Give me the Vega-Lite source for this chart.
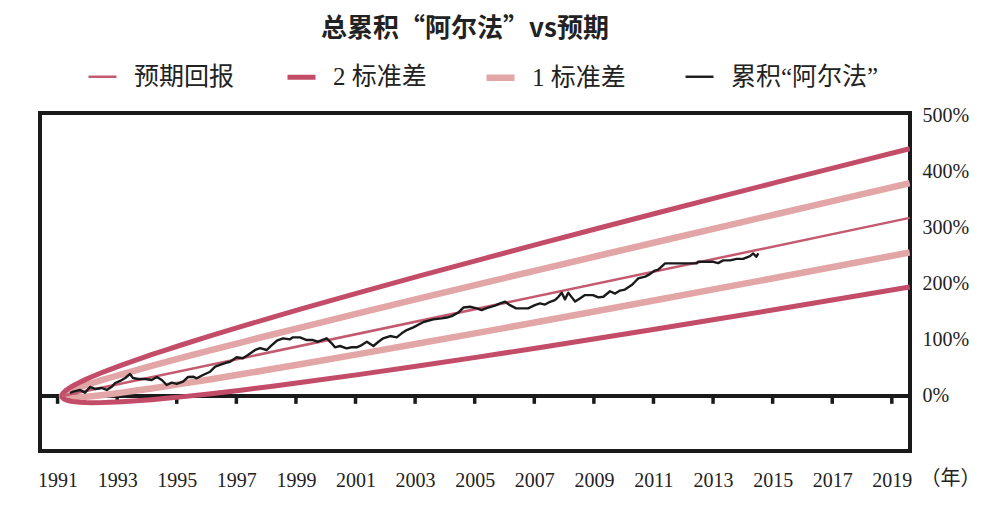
{
"$schema":"https://vega.github.io/schema/vega-lite/v6.json",
"width":870,"height":338,
"autosize":"none",
"padding":{"left":40,"top":113,"right":95,"bottom":59},
"background":"white",
"title":{"text":"总累积“阿尔法”vs预期","font":"Noto Sans CJK SC","fontSize":26,"fontWeight":"bold","color":"#222222","anchor":"middle","frame":"group","offset":18,"dx":-10},
"datasets":{
"zero":[{"value":0}],
"ticks":[{"year":1991},{"year":1993},{"year":1995},{"year":1997},{"year":1999},{"year":2001},{"year":2003},{"year":2005},{"year":2007},{"year":2009},{"year":2011},{"year":2013},{"year":2015},{"year":2017},{"year":2019}],
"lines":[
{"series":"1 标准差","year":2019.6,"value":255.61,"ord":-28.45},
{"series":"1 标准差","year":2017.15,"value":231.01,"ord":-26},
{"series":"1 标准差","year":2015.15,"value":211.02,"ord":-24},
{"series":"1 标准差","year":2013.15,"value":191.13,"ord":-22},
{"series":"1 标准差","year":2011.15,"value":171.35,"ord":-20},
{"series":"1 标准差","year":2009.15,"value":151.7,"ord":-18},
{"series":"1 标准差","year":2007.15,"value":132.2,"ord":-16},
{"series":"1 标准差","year":2005.15,"value":112.88,"ord":-14},
{"series":"1 标准差","year":2003.15,"value":93.79,"ord":-12},
{"series":"1 标准差","year":2001.15,"value":74.98,"ord":-10},
{"series":"1 标准差","year":1999.15,"value":56.53,"ord":-8},
{"series":"1 标准差","year":1998.15,"value":47.49,"ord":-7},
{"series":"1 标准差","year":1997.15,"value":38.61,"ord":-6},
{"series":"1 标准差","year":1996.15,"value":29.92,"ord":-5},
{"series":"1 标准差","year":1995.15,"value":21.5,"ord":-4},
{"series":"1 标准差","year":1994.65,"value":17.42,"ord":-3.5},
{"series":"1 标准差","year":1994.15,"value":13.44,"ord":-3},
{"series":"1 标准差","year":1993.65,"value":9.61,"ord":-2.5},
{"series":"1 标准差","year":1993.15,"value":5.97,"ord":-2},
{"series":"1 标准差","year":1992.75,"value":3.23,"ord":-1.6},
{"series":"1 标准差","year":1992.45,"value":1.33,"ord":-1.3},
{"series":"1 标准差","year":1992.15,"value":-0.4,"ord":-1},
{"series":"1 标准差","year":1991.95,"value":-1.41,"ord":-0.8},
{"series":"1 标准差","year":1991.75,"value":-2.26,"ord":-0.6},
{"series":"1 标准差","year":1991.6,"value":-2.73,"ord":-0.45},
{"series":"1 标准差","year":1991.45,"value":-2.98,"ord":-0.3},
{"series":"1 标准差","year":1991.35,"value":-2.94,"ord":-0.2},
{"series":"1 标准差","year":1991.3,"value":-2.8,"ord":-0.15},
{"series":"1 标准差","year":1991.25,"value":-2.54,"ord":-0.1},
{"series":"1 标准差","year":1991.21,"value":-2.16,"ord":-0.06},
{"series":"1 标准差","year":1991.18,"value":-1.67,"ord":-0.03},
{"series":"1 标准差","year":1991.16,"value":-1.04,"ord":-0.01},
{"series":"1 标准差","year":1991.15,"value":0,"ord":0},
{"series":"1 标准差","year":1991.16,"value":1.27,"ord":0.01},
{"series":"1 标准差","year":1991.18,"value":2.33,"ord":0.03},
{"series":"1 标准差","year":1991.21,"value":3.5,"ord":0.06},
{"series":"1 标准差","year":1991.25,"value":4.77,"ord":0.1},
{"series":"1 标准差","year":1991.3,"value":6.15,"ord":0.15},
{"series":"1 标准差","year":1991.35,"value":7.4,"ord":0.2},
{"series":"1 标准差","year":1991.45,"value":9.67,"ord":0.3},
{"series":"1 标准差","year":1991.6,"value":12.77,"ord":0.45},
{"series":"1 标准差","year":1991.75,"value":15.64,"ord":0.6},
{"series":"1 标准差","year":1991.95,"value":19.25,"ord":0.8},
{"series":"1 标准差","year":1992.15,"value":22.7,"ord":1},
{"series":"1 标准差","year":1992.45,"value":27.67,"ord":1.3},
{"series":"1 标准差","year":1992.75,"value":32.45,"ord":1.6},
{"series":"1 标准差","year":1993.15,"value":38.63,"ord":2},
{"series":"1 标准差","year":1993.65,"value":46.14,"ord":2.5},
{"series":"1 标准差","year":1994.15,"value":53.46,"ord":3},
{"series":"1 标准差","year":1994.65,"value":60.64,"ord":3.5},
{"series":"1 标准差","year":1995.15,"value":67.7,"ord":4},
{"series":"1 标准差","year":1996.15,"value":81.58,"ord":5},
{"series":"1 标准差","year":1997.15,"value":95.19,"ord":6},
{"series":"1 标准差","year":1998.15,"value":108.61,"ord":7},
{"series":"1 标准差","year":1999.15,"value":121.87,"ord":8},
{"series":"1 标准差","year":2001.15,"value":148.02,"ord":10},
{"series":"1 标准差","year":2003.15,"value":173.81,"ord":12},
{"series":"1 标准差","year":2005.15,"value":199.32,"ord":14},
{"series":"1 标准差","year":2007.15,"value":224.6,"ord":16},
{"series":"1 标准差","year":2009.15,"value":249.7,"ord":18},
{"series":"1 标准差","year":2011.15,"value":274.65,"ord":20},
{"series":"1 标准差","year":2013.15,"value":299.47,"ord":22},
{"series":"1 标准差","year":2015.15,"value":324.18,"ord":24},
{"series":"1 标准差","year":2017.15,"value":348.79,"ord":26},
{"series":"1 标准差","year":2019.6,"value":378.83,"ord":28.45},
{"series":"2 标准差","year":2019.6,"value":193.99,"ord":-28.45},
{"series":"2 标准差","year":2017.15,"value":172.12,"ord":-26},
{"series":"2 标准差","year":2015.15,"value":154.43,"ord":-24},
{"series":"2 标准差","year":2013.15,"value":136.96,"ord":-22},
{"series":"2 标准差","year":2011.15,"value":119.7,"ord":-20},
{"series":"2 标准差","year":2009.15,"value":102.7,"ord":-18},
{"series":"2 标准差","year":2007.15,"value":86.0,"ord":-16},
{"series":"2 标准差","year":2005.15,"value":69.66,"ord":-14},
{"series":"2 标准差","year":2003.15,"value":53.78,"ord":-12},
{"series":"2 标准差","year":2001.15,"value":38.46,"ord":-10},
{"series":"2 标准差","year":1999.15,"value":23.86,"ord":-8},
{"series":"2 标准差","year":1998.15,"value":16.93,"ord":-7},
{"series":"2 标准差","year":1997.15,"value":10.32,"ord":-6},
{"series":"2 标准差","year":1996.15,"value":4.09,"ord":-5},
{"series":"2 标准差","year":1995.15,"value":-1.6,"ord":-4},
{"series":"2 标准差","year":1994.65,"value":-4.19,"ord":-3.5},
{"series":"2 标准差","year":1994.15,"value":-6.57,"ord":-3},
{"series":"2 标准差","year":1993.65,"value":-8.65,"ord":-2.5},
{"series":"2 标准差","year":1993.15,"value":-10.37,"ord":-2},
{"series":"2 标准差","year":1992.75,"value":-11.38,"ord":-1.6},
{"series":"2 标准差","year":1992.45,"value":-11.84,"ord":-1.3},
{"series":"2 标准差","year":1992.15,"value":-11.95,"ord":-1},
{"series":"2 标准差","year":1991.95,"value":-11.74,"ord":-0.8},
{"series":"2 标准差","year":1991.75,"value":-11.2,"ord":-0.6},
{"series":"2 标准差","year":1991.6,"value":-10.48,"ord":-0.45},
{"series":"2 标准差","year":1991.45,"value":-9.31,"ord":-0.3},
{"series":"2 标准差","year":1991.35,"value":-8.1,"ord":-0.2},
{"series":"2 标准差","year":1991.3,"value":-7.27,"ord":-0.15},
{"series":"2 标准差","year":1991.25,"value":-6.19,"ord":-0.1},
{"series":"2 标准差","year":1991.21,"value":-4.99,"ord":-0.06},
{"series":"2 标准差","year":1991.18,"value":-3.67,"ord":-0.03},
{"series":"2 标准差","year":1991.16,"value":-2.2,"ord":-0.01},
{"series":"2 标准差","year":1991.15,"value":0,"ord":0},
{"series":"2 标准差","year":1991.16,"value":2.42,"ord":0.01},
{"series":"2 标准差","year":1991.18,"value":4.33,"ord":0.03},
{"series":"2 标准差","year":1991.21,"value":6.33,"ord":0.06},
{"series":"2 标准差","year":1991.25,"value":8.42,"ord":0.1},
{"series":"2 标准差","year":1991.3,"value":10.62,"ord":0.15},
{"series":"2 标准差","year":1991.35,"value":12.56,"ord":0.2},
{"series":"2 标准差","year":1991.45,"value":16.0,"ord":0.3},
{"series":"2 标准差","year":1991.6,"value":20.52,"ord":0.45},
{"series":"2 标准差","year":1991.75,"value":24.58,"ord":0.6},
{"series":"2 标准差","year":1991.95,"value":29.58,"ord":0.8},
{"series":"2 标准差","year":1992.15,"value":34.25,"ord":1},
{"series":"2 标准差","year":1992.45,"value":40.84,"ord":1.3},
{"series":"2 标准差","year":1992.75,"value":47.06,"ord":1.6},
{"series":"2 标准差","year":1993.15,"value":54.97,"ord":2},
{"series":"2 标准差","year":1993.65,"value":64.4,"ord":2.5},
{"series":"2 标准差","year":1994.15,"value":73.47,"ord":3},
{"series":"2 标准差","year":1994.65,"value":82.25,"ord":3.5},
{"series":"2 标准差","year":1995.15,"value":90.8,"ord":4},
{"series":"2 标准差","year":1996.15,"value":107.41,"ord":5},
{"series":"2 标准差","year":1997.15,"value":123.48,"ord":6},
{"series":"2 标准差","year":1998.15,"value":139.17,"ord":7},
{"series":"2 标准差","year":1999.15,"value":154.54,"ord":8},
{"series":"2 标准差","year":2001.15,"value":184.54,"ord":10},
{"series":"2 标准差","year":2003.15,"value":213.82,"ord":12},
{"series":"2 标准差","year":2005.15,"value":242.54,"ord":14},
{"series":"2 标准差","year":2007.15,"value":270.8,"ord":16},
{"series":"2 标准差","year":2009.15,"value":298.7,"ord":18},
{"series":"2 标准差","year":2011.15,"value":326.3,"ord":20},
{"series":"2 标准差","year":2013.15,"value":353.64,"ord":22},
{"series":"2 标准差","year":2015.15,"value":380.77,"ord":24},
{"series":"2 标准差","year":2017.15,"value":407.68,"ord":26},
{"series":"2 标准差","year":2019.6,"value":440.44,"ord":28.45},
{"series":"预期回报","year":1991.15,"value":0,"ord":0},
{"series":"预期回报","year":2019.6,"value":317.22,"ord":28.45},
{"series":"累积“阿尔法”","year":1991.42,"value":5.3,"ord":1991.42},
{"series":"累积“阿尔法”","year":1991.52,"value":7.7,"ord":1991.52},
{"series":"累积“阿尔法”","year":1991.76,"value":10.7,"ord":1991.76},
{"series":"累积“阿尔法”","year":1991.92,"value":5.9,"ord":1991.92},
{"series":"累积“阿尔法”","year":1992.09,"value":16.0,"ord":1992.09},
{"series":"累积“阿尔法”","year":1992.26,"value":12.5,"ord":1992.26},
{"series":"累积“阿尔法”","year":1992.48,"value":14.2,"ord":1992.48},
{"series":"累积“阿尔法”","year":1992.65,"value":10.7,"ord":1992.65},
{"series":"累积“阿尔法”","year":1992.82,"value":16.5,"ord":1992.82},
{"series":"累积“阿尔法”","year":1992.93,"value":23.1,"ord":1992.93},
{"series":"累积“阿尔法”","year":1993.1,"value":26.7,"ord":1993.1},
{"series":"累积“阿尔法”","year":1993.27,"value":32.0,"ord":1993.27},
{"series":"累积“阿尔法”","year":1993.43,"value":39.1,"ord":1993.43},
{"series":"累积“阿尔法”","year":1993.53,"value":32.0,"ord":1993.53},
{"series":"累积“阿尔法”","year":1993.7,"value":30.2,"ord":1993.7},
{"series":"累积“阿尔法”","year":1993.94,"value":30.2,"ord":1993.94},
{"series":"累积“阿尔法”","year":1994.16,"value":28.5,"ord":1994.16},
{"series":"累积“阿尔法”","year":1994.33,"value":33.8,"ord":1994.33},
{"series":"累积“阿尔法”","year":1994.5,"value":28.5,"ord":1994.5},
{"series":"累积“阿尔法”","year":1994.66,"value":19.6,"ord":1994.66},
{"series":"累积“阿尔法”","year":1994.83,"value":23.7,"ord":1994.83},
{"series":"累积“阿尔法”","year":1995.0,"value":21.4,"ord":1995.0},
{"series":"累积“阿尔法”","year":1995.21,"value":25.4,"ord":1995.21},
{"series":"累积“阿尔法”","year":1995.38,"value":33.8,"ord":1995.38},
{"series":"累积“阿尔法”","year":1995.55,"value":34.3,"ord":1995.55},
{"series":"累积“阿尔法”","year":1995.67,"value":31.5,"ord":1995.67},
{"series":"累积“阿尔法”","year":1995.88,"value":37.4,"ord":1995.88},
{"series":"累积“阿尔法”","year":1996.12,"value":43.2,"ord":1996.12},
{"series":"累积“阿尔法”","year":1996.29,"value":52.1,"ord":1996.29},
{"series":"累积“阿尔法”","year":1996.45,"value":55.2,"ord":1996.45},
{"series":"累积“阿尔法”","year":1996.62,"value":58.7,"ord":1996.62},
{"series":"累积“阿尔法”","year":1996.79,"value":61.0,"ord":1996.79},
{"series":"累积“阿尔法”","year":1997.01,"value":68.9,"ord":1997.01},
{"series":"累积“阿尔法”","year":1997.22,"value":67.1,"ord":1997.22},
{"series":"累积“阿尔法”","year":1997.39,"value":73.0,"ord":1997.39},
{"series":"累积“阿尔法”","year":1997.63,"value":81.9,"ord":1997.63},
{"series":"累积“阿尔法”","year":1997.8,"value":85.4,"ord":1997.8},
{"series":"累积“阿尔法”","year":1998.02,"value":81.9,"ord":1998.02},
{"series":"累积“阿尔法”","year":1998.19,"value":90.7,"ord":1998.19},
{"series":"累积“阿尔法”","year":1998.36,"value":98.4,"ord":1998.36},
{"series":"累积“阿尔法”","year":1998.57,"value":102.7,"ord":1998.57},
{"series":"累积“阿尔法”","year":1998.8,"value":100.9,"ord":1998.8},
{"series":"累积“阿尔法”","year":1998.9,"value":104.4,"ord":1998.9},
{"series":"累积“阿尔法”","year":1999.14,"value":104.4,"ord":1999.14},
{"series":"累积“阿尔法”","year":1999.36,"value":99.6,"ord":1999.36},
{"series":"累积“阿尔法”","year":1999.57,"value":99.6,"ord":1999.57},
{"series":"累积“阿尔法”","year":1999.74,"value":96.6,"ord":1999.74},
{"series":"累积“阿尔法”","year":2000.03,"value":102.7,"ord":2000.03},
{"series":"累积“阿尔法”","year":2000.2,"value":93.8,"ord":2000.2},
{"series":"累积“阿尔法”","year":2000.31,"value":86.7,"ord":2000.31},
{"series":"累积“阿尔法”","year":2000.48,"value":89.0,"ord":2000.48},
{"series":"累积“阿尔法”","year":2000.7,"value":84.9,"ord":2000.7},
{"series":"累积“阿尔法”","year":2000.87,"value":86.7,"ord":2000.87},
{"series":"累积“阿尔法”","year":2001.04,"value":86.7,"ord":2001.04},
{"series":"累积“阿尔法”","year":2001.21,"value":90.7,"ord":2001.21},
{"series":"累积“阿尔法”","year":2001.38,"value":96.6,"ord":2001.38},
{"series":"累积“阿尔法”","year":2001.6,"value":89.0,"ord":2001.6},
{"series":"累积“阿尔法”","year":2001.77,"value":96.6,"ord":2001.77},
{"series":"累积“阿尔法”","year":2001.93,"value":102.7,"ord":2001.93},
{"series":"累积“阿尔法”","year":2002.16,"value":106.8,"ord":2002.16},
{"series":"累积“阿尔法”","year":2002.38,"value":104.4,"ord":2002.38},
{"series":"累积“阿尔法”","year":2002.55,"value":111.6,"ord":2002.55},
{"series":"累积“阿尔法”","year":2002.72,"value":117.4,"ord":2002.72},
{"series":"累积“阿尔法”","year":2002.94,"value":122.2,"ord":2002.94},
{"series":"累积“阿尔法”","year":2003.28,"value":131.7,"ord":2003.28},
{"series":"累积“阿尔法”","year":2003.61,"value":136.5,"ord":2003.61},
{"series":"累积“阿尔法”","year":2003.89,"value":138.3,"ord":2003.89},
{"series":"累积“阿尔法”","year":2004.06,"value":139.7,"ord":2004.06},
{"series":"累积“阿尔法”","year":2004.23,"value":142.3,"ord":2004.23},
{"series":"累积“阿尔法”","year":2004.45,"value":148.6,"ord":2004.45},
{"series":"累积“阿尔法”","year":2004.62,"value":157.5,"ord":2004.62},
{"series":"累积“阿尔法”","year":2004.84,"value":158.9,"ord":2004.84},
{"series":"累积“阿尔法”","year":2005.07,"value":156.0,"ord":2005.07},
{"series":"累积“阿尔法”","year":2005.23,"value":153.0,"ord":2005.23},
{"series":"累积“阿尔法”","year":2005.4,"value":156.6,"ord":2005.4},
{"series":"累积“阿尔法”","year":2005.68,"value":161.0,"ord":2005.68},
{"series":"累积“阿尔法”","year":2005.85,"value":164.9,"ord":2005.85},
{"series":"累积“阿尔法”","year":2006.02,"value":167.8,"ord":2006.02},
{"series":"累积“阿尔法”","year":2006.15,"value":162.8,"ord":2006.15},
{"series":"累积“阿尔法”","year":2006.39,"value":156.0,"ord":2006.39},
{"series":"累积“阿尔法”","year":2006.79,"value":156.0,"ord":2006.79},
{"series":"累积“阿尔法”","year":2007.02,"value":161.9,"ord":2007.02},
{"series":"累积“阿尔法”","year":2007.19,"value":164.9,"ord":2007.19},
{"series":"累积“阿尔法”","year":2007.36,"value":162.8,"ord":2007.36},
{"series":"累积“阿尔法”","year":2007.53,"value":167.8,"ord":2007.53},
{"series":"累积“阿尔法”","year":2007.69,"value":170.8,"ord":2007.69},
{"series":"累积“阿尔法”","year":2007.81,"value":176.7,"ord":2007.81},
{"series":"累积“阿尔法”","year":2007.92,"value":183.8,"ord":2007.92},
{"series":"累积“阿尔法”","year":2008.03,"value":172.1,"ord":2008.03},
{"series":"累积“阿尔法”","year":2008.14,"value":183.8,"ord":2008.14},
{"series":"累积“阿尔法”","year":2008.26,"value":175.6,"ord":2008.26},
{"series":"累积“阿尔法”","year":2008.37,"value":168.1,"ord":2008.37},
{"series":"累积“阿尔法”","year":2008.53,"value":173.8,"ord":2008.53},
{"series":"累积“阿尔法”","year":2008.7,"value":179.7,"ord":2008.7},
{"series":"累积“阿尔法”","year":2008.97,"value":179.7,"ord":2008.97},
{"series":"累积“阿尔法”","year":2009.15,"value":175.6,"ord":2009.15},
{"series":"累积“阿尔法”","year":2009.32,"value":176.7,"ord":2009.32},
{"series":"累积“阿尔法”","year":2009.54,"value":186.5,"ord":2009.54},
{"series":"累积“阿尔法”","year":2009.71,"value":182.4,"ord":2009.71},
{"series":"累积“阿尔法”","year":2009.88,"value":187.7,"ord":2009.88},
{"series":"累积“阿尔法”","year":2010.04,"value":189.5,"ord":2010.04},
{"series":"累积“阿尔法”","year":2010.27,"value":197.5,"ord":2010.27},
{"series":"累积“阿尔法”","year":2010.38,"value":203.4,"ord":2010.38},
{"series":"累积“阿尔法”","year":2010.49,"value":209.4,"ord":2010.49},
{"series":"累积“阿尔法”","year":2010.72,"value":212.6,"ord":2010.72},
{"series":"累积“阿尔法”","year":2010.88,"value":217.1,"ord":2010.88},
{"series":"累积“阿尔法”","year":2011.05,"value":223.3,"ord":2011.05},
{"series":"累积“阿尔法”","year":2011.16,"value":225.1,"ord":2011.16},
{"series":"累积“阿尔法”","year":2011.39,"value":236.1,"ord":2011.39},
{"series":"累积“阿尔法”","year":2011.89,"value":236.1,"ord":2011.89},
{"series":"累积“阿尔法”","year":2012.45,"value":236.1,"ord":2012.45},
{"series":"累积“阿尔法”","year":2012.5,"value":239.0,"ord":2012.5},
{"series":"累积“阿尔法”","year":2013.01,"value":239.0,"ord":2013.01},
{"series":"累积“阿尔法”","year":2013.17,"value":236.7,"ord":2013.17},
{"series":"累积“阿尔法”","year":2013.34,"value":241.5,"ord":2013.34},
{"series":"累积“阿尔法”","year":2013.57,"value":241.5,"ord":2013.57},
{"series":"累积“阿尔法”","year":2013.79,"value":244.1,"ord":2013.79},
{"series":"累积“阿尔法”","year":2014.01,"value":244.1,"ord":2014.01},
{"series":"累积“阿尔法”","year":2014.24,"value":249.1,"ord":2014.24},
{"series":"累积“阿尔法”","year":2014.35,"value":253.9,"ord":2014.35},
{"series":"累积“阿尔法”","year":2014.45,"value":247.9,"ord":2014.45},
{"series":"累积“阿尔法”","year":2014.52,"value":253.9,"ord":2014.52}
]
},
"layer":[
{
"data":{"name":"zero"},
"mark":{"type":"rule","color":"#1a1a1a","strokeWidth":4},
"encoding":{
"y":{"field":"value","type":"quantitative","scale":{"domain":[-98,504],"nice":false,"zero":false},"axis":{"orient":"right","values":[0,100,200,300,400,500],"labelExpr":"datum.value + '%'","title":null}}
}
},
{
"data":{"name":"ticks"},
"mark":{"type":"rule","color":"#1a1a1a","strokeWidth":3.5},
"encoding":{
"x":{"field":"year","type":"quantitative","scale":{"domain":[1990.41,2019.61],"nice":false,"zero":false},"axis":{"values":[1991,1993,1995,1997,1999,2001,2003,2005,2007,2009,2011,2013,2015,2017,2019],"format":"d","title":"（年）"}},
"y":{"datum":0,"type":"quantitative","scale":{"domain":[-98,504],"nice":false,"zero":false},"axis":{"orient":"right","values":[0,100,200,300,400,500],"labelExpr":"datum.value + '%'","title":null}},
"y2":{"datum":-14}
}
},
{
"data":{"name":"lines"},
"mark":{"type":"line","strokeCap":"butt","strokeJoin":"round","clip":true},
"encoding":{
"x":{"field":"year","type":"quantitative","scale":{"domain":[1990.41,2019.61],"nice":false,"zero":false},"axis":{"values":[1991,1993,1995,1997,1999,2001,2003,2005,2007,2009,2011,2013,2015,2017,2019],"format":"d","title":"（年）"}},
"y":{"field":"value","type":"quantitative","scale":{"domain":[-98,504],"nice":false,"zero":false},"axis":{"orient":"right","values":[0,100,200,300,400,500],"labelExpr":"datum.value + '%'","title":null}},
"color":{"field":"series","type":"nominal","scale":{"domain":["预期回报","2 标准差","1 标准差","累积“阿尔法”"],"range":["#c45a70","#c34d68","#e3a6a6","#1a1a1a"]},
"legend":{"orient":"none","legendX":45,"legendY":-53,"direction":"horizontal","columns":4,"title":null,"symbolType":"stroke","symbolSize":784,"labelFont":"Liberation Serif, Noto Sans CJK SC","labelFontSize":25,"labelColor":"#222222","labelOffset":14,"columnPadding":-8,"gridAlign":"all","labelLimit":300}},
"strokeWidth":{"field":"series","type":"nominal","scale":{"type":"ordinal","domain":["预期回报","2 标准差","1 标准差","累积“阿尔法”"],"range":[2.5,5,6.5,2.4]},
"legend":{"orient":"none","legendX":45,"legendY":-53,"direction":"horizontal","columns":4,"title":null,"symbolType":"stroke","symbolSize":784,"labelFont":"Liberation Serif, Noto Sans CJK SC","labelFontSize":25,"labelColor":"#222222","labelOffset":14,"columnPadding":-8,"gridAlign":"all","labelLimit":300}},
"order":{"field":"ord","type":"quantitative"}
}
}
],
"config":{
"view":{"stroke":"#1a1a1a","strokeWidth":4},
"axis":{"grid":false,"ticks":false,"domain":false,"labelFont":"Liberation Serif","labelFontSize":20,"labelColor":"#222222"},
"axisX":{"labelPadding":19,"titleFont":"Noto Sans CJK SC","titleFontSize":20,"titleFontWeight":"normal","titleColor":"#222222","titleX":910,"titleY":17,"titleBaseline":"top","titleAlign":"center","titleAnchor":"start"},
"axisY":{"labelPadding":12}
}
}
